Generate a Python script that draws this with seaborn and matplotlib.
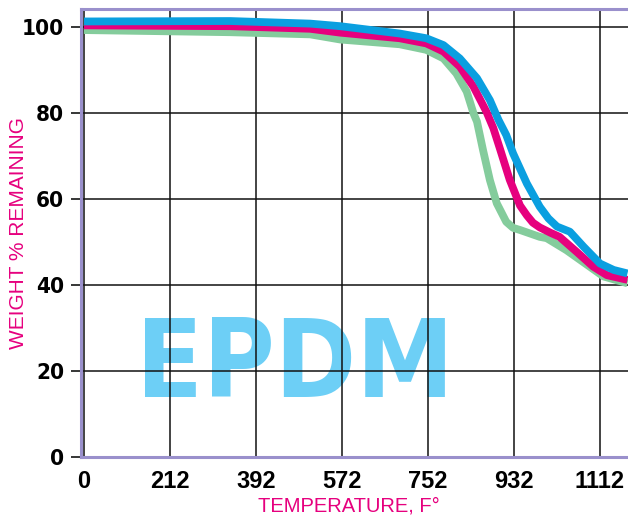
import matplotlib
matplotlib.use("Agg")
import matplotlib.pyplot as plt
from matplotlib import font_manager as fm
import seaborn as sns
import pandas as pd

# temperature axis is evenly spaced in Celsius, labelled in Fahrenheit
tick_pos = [0, 100, 200, 300, 400, 500, 600]
tick_labels = ["0", "212", "392", "572", "752", "932", "1112"]
y_ticks = [0, 20, 40, 60, 80, 100]

green_t = [0, 170, 263, 298, 367, 398, 418, 433, 445, 453, 457, 464, 472, 480, 491, 499, 507, 530, 538, 561, 585, 604, 632]
green_w = [99.3, 98.8, 98.3, 97.1, 96.0, 94.7, 92.7, 89.2, 85.0, 79.9, 78.0, 71.4, 64.4, 59.0, 54.7, 53.3, 52.8, 51.2, 50.9, 48.1, 44.7, 42.0, 40.4]

pink_t = [0, 170, 263, 298, 367, 398, 418, 437, 453, 468, 476, 484, 495, 501, 507, 515, 522, 530, 542, 553, 573, 592, 608, 632]
pink_w = [100.4, 100.2, 99.6, 98.7, 97.4, 96.2, 94.3, 90.8, 86.1, 80.3, 76.5, 71.5, 64.5, 61.5, 58.5, 56.2, 54.5, 53.4, 52.2, 51.2, 47.7, 44.3, 42.3, 41.2]

blue_t = [0, 170, 263, 298, 367, 398, 418, 437, 457, 472, 482, 491, 499, 515, 530, 540, 550, 565, 581, 600, 616, 632]
blue_w = [101.3, 101.4, 100.8, 100.2, 98.5, 97.4, 95.8, 92.7, 88.1, 83.0, 78.4, 74.9, 70.6, 63.6, 58.2, 55.5, 53.6, 52.4, 48.9, 45.0, 43.5, 42.7]

series = ["green", "pink", "blue"]
colors = {"green": "#84cc9c", "pink": "#e6007e", "blue": "#0a9fe0"}

df = pd.concat([
    pd.DataFrame({"temp": green_t, "weight": green_w, "series": "green"}),
    pd.DataFrame({"temp": pink_t, "weight": pink_w, "series": "pink"}),
    pd.DataFrame({"temp": blue_t, "weight": blue_w, "series": "blue"}),
])


def narrow_bold_face():
    # look for a condensed / narrow bold face among the installed fonts
    best = None
    for f in fm.fontManager.ttflist:
        nm = (f.name + " " + f.fname).lower()
        st = str(f.stretch).lower()
        if not ("narrow" in nm or "condensed" in nm or "condensed" in st):
            continue
        if "italic" in nm or "oblique" in nm or f.style != "normal":
            continue
        w = f.weight if isinstance(f.weight, int) else fm.weight_dict.get(f.weight, 400)
        if w < 600 or w > 800:
            continue
        if "semi" in nm or "extra" in nm or "ultra" in nm:
            if best is None:
                best = f.fname
            continue
        return fm.FontProperties(fname=f.fname)
    if best:
        return fm.FontProperties(fname=best)
    return fm.FontProperties(family="Liberation Sans", weight="bold")


sns.set_style("white")
plt.rcParams["font.family"] = ["Liberation Sans", "DejaVu Sans"]

fig = plt.figure(figsize=(6.28, 5.21), dpi=100)
ax = fig.add_axes([81 / 628, 64 / 521, 547 / 628, 448 / 521])
renderer = fig.canvas.get_renderer()
narrow = narrow_bold_face()

sns.lineplot(data=df, x="temp", y="weight", hue="series", hue_order=series,
             palette=colors, linewidth=5.6, legend=False, ax=ax, zorder=3,
             solid_joinstyle="round", solid_capstyle="butt")

ax.set_xlim(-3.5, 632.6)
ax.set_ylim(0, 104.2)
ax.set_xticks(tick_pos)
ax.set_xticklabels(tick_labels)
ax.set_yticks(y_ticks)

# big watermark label, sized to roughly the reference box
epdm_fp = narrow.copy()
epdm_fp.set_size(90)
epdm = ax.text(61, 14.0, "EPDM", color="#6dcff6", fontproperties=epdm_fp,
               ha="left", va="baseline", zorder=0.1)
w = epdm.get_window_extent(renderer).width
epdm_fp.set_size(min(90 * 318 / w, 96))
epdm.set_fontproperties(epdm_fp)

ax.set_axisbelow(True)
ax.grid(True, color="#111111", linewidth=1.1)

for lab in ax.get_xticklabels():
    lab.set_fontweight("bold")
    lab.set_fontsize(17)

ytick_fp = narrow.copy()
ytick_fp.set_size(19)
probe = fig.text(0, 0, "100", fontproperties=ytick_fp)
pw = probe.get_window_extent(renderer).width
probe.remove()
ytick_fp.set_size(min(19, 19 * 42 / pw))
for lab in ax.get_yticklabels():
    lab.set_fontproperties(ytick_fp)

ax.tick_params(axis="x", length=0, pad=9, colors="black")
ax.tick_params(axis="y", length=7, width=1.1, pad=5, colors="black", left=True)

purple = "#9a90cc"
for side in ["left", "top", "bottom"]:
    ax.spines[side].set_color(purple)
    ax.spines[side].set_linewidth(2.2)
    ax.spines[side].set_zorder(4)
ax.spines["right"].set_visible(False)

ax.set_xlabel("TEMPERATURE, F°", color="#e6007e", fontsize=14.5)
ax.set_ylabel("WEIGHT % REMAINING", color="#e6007e", fontsize=15)
ax.xaxis.set_label_coords(0.49, -0.088)
ax.yaxis.set_label_coords(-0.097, 0.5)

fig.savefig("out.png", dpi=100)
